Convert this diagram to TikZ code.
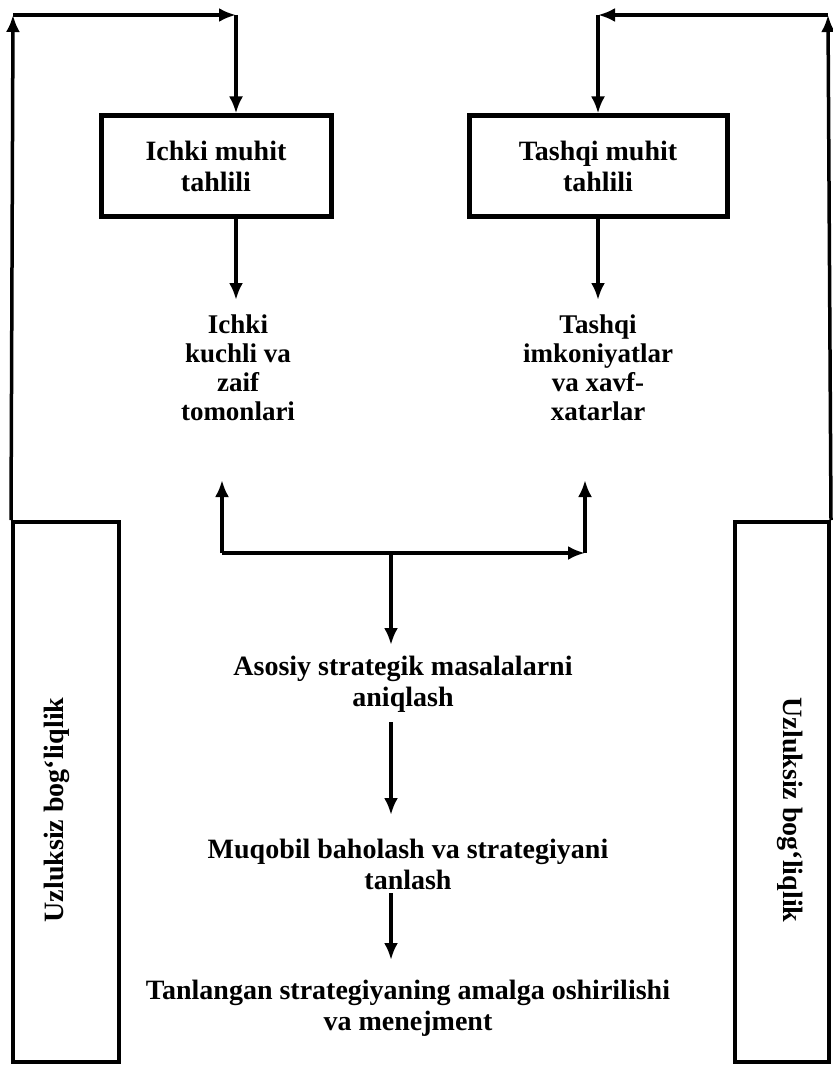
\documentclass[tikz,border=0pt]{standalone}
\usepackage{fontspec}
\setmainfont{Liberation Serif}
\usetikzlibrary{arrows.meta}
\begin{document}
\begin{tikzpicture}[x=1pt,y=-1pt,
  txt/.style={font=\bfseries\fontsize{28}{31}\selectfont, align=center, inner sep=0pt},
  tbox/.style={draw, line width=5pt, inner sep=0pt, minimum height=100pt},
  sidebox/.style={draw, line width=4pt, inner sep=0pt},
  arr/.style={line width=3.5pt, -{Latex[length=17pt,width=14pt]}}]
\useasboundingbox (0,0) rectangle (832,1070);
% top boxes
\node[tbox, minimum width=230pt, txt] (box1) at (216,166) {Ichki muhit\\tahlili};
\node[tbox, minimum width=258pt, txt] (box2) at (598,166) {Tashqi muhit\\tahlili};
% lists
\node[txt, font=\bfseries\fontsize{27}{29}\selectfont] (t1) at (238,368) {Ichki\\kuchli va\\zaif\\tomonlari};
\node[txt, font=\bfseries\fontsize{27}{29}\selectfont] (t2) at (598,368) {Tashqi\\imkoniyatlar\\va xavf-\\xatarlar};
% side boxes
\node[sidebox, minimum width=106pt, minimum height=540pt] (lbox) at (66,792) {};
\node[sidebox, minimum width=94pt, minimum height=540pt] (rbox) at (782,792) {};
\node[txt, rotate=90] (ltxt) at (57,810) {Uzluksiz bog‘liqlik};
\node[txt, rotate=-90] (rtxt) at (790,810) {Uzluksiz bog‘liqlik};
% middle chain
\node[txt] (a1) at (403,684) {Asosiy strategik masalalarni\\aniqlash};
\node[txt] (a2) at (408,864) {Muqobil baholash va strategiyani\\tanlash};
\node[txt] (a3) at (408,1008) {Tanlangan strategiyaning amalga oshirilishi\\va menejment};
% coordinates
\coordinate (cTL) at (13,15);
\coordinate (cTM) at (236,15);
\coordinate (cTR) at (828,15);
\coordinate (cTN) at (598,15);
\coordinate (d1) at (236,300);
\coordinate (d2) at (598,300);
\coordinate (cL) at (222,553);
\coordinate (cR) at (585,553);
\coordinate (j) at (391,553);
\coordinate (uL) at (222,480);
\coordinate (uR) at (585,480);
\coordinate (e1) at (391,645);
\coordinate (f0) at (391,722);
\coordinate (f1) at (391,815);
\coordinate (g0) at (391,893);
\coordinate (g1) at (391,960);
% left feedback loop
\draw[arr] (lbox.north west) -- (cTL);
\draw[arr] (cTL) -- (cTM);
\draw[arr] (cTM) -- (cTM |- box1.north);
% right feedback loop
\draw[arr] (rbox.north east) -- (cTR);
\draw[arr] (cTR) -- (cTN);
\draw[arr] (cTN) -- (cTN |- box2.north);
% box to list
\draw[arr] (cTM |- box1.south) -- (d1);
\draw[arr] (box2.south) -- (d2);
% T connector
\draw[arr] (cL) -- (uL);
\draw[arr] (cL) -- (cR);
\draw[arr] (cR) -- (uR);
\draw[arr] (j) -- (e1);
% chain
\draw[arr] (f0) -- (f1);
\draw[arr] (g0) -- (g1);
\end{tikzpicture}
\end{document}
